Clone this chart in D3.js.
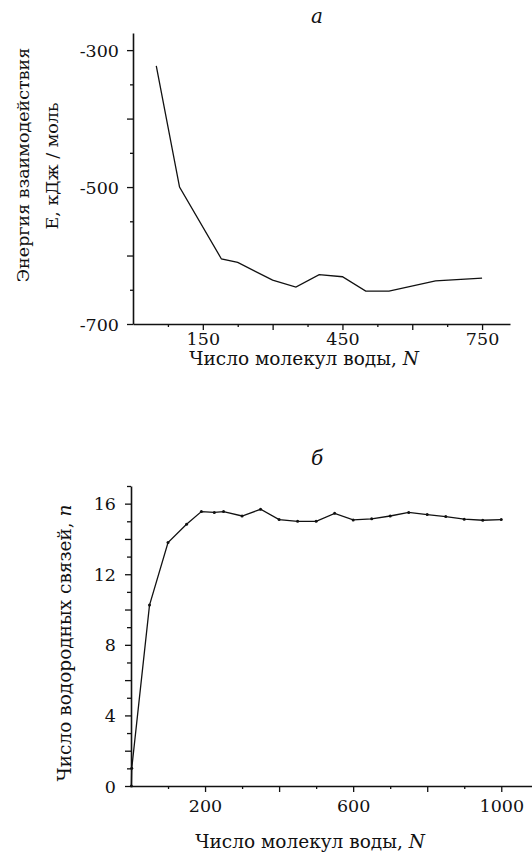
<html>

<head>
    <script src="https://cdn.jsdelivr.net/npm/d3@7/dist/d3.min.js"></script>
    <style>
        body {
            margin: 0;
            background: #fff;
        }

        .domain {
            stroke: #111;
            stroke-width: 1.6;
        }

        .tick line {
            stroke: #111;
            stroke-width: 1.3;
        }
    </style>
</head>

<body>
    <script>
        // panel a: interaction energy vs number of waters
        var sizesA = [50, 100, 190, 225, 300, 350, 400, 450, 500, 550, 650, 750];
        var energyA = [-323, -500, -605, -610, -636, -646, -628, -631, -652, -652, -637, -633];

        // panel b: number of H-bonds vs number of waters
        var sizesB = [1, 2, 50, 100, 150, 190, 225, 250, 300, 350, 400, 450, 500, 550, 600, 650, 700, 750, 800, 850, 900, 950, 1000];
        var bondsB = [0, 1, 10.25, 13.8, 14.83, 15.55, 15.5, 15.55, 15.3, 15.68, 15.1, 15.0, 15.0, 15.45, 15.08, 15.14, 15.3, 15.5, 15.38, 15.27, 15.12, 15.06, 15.1];

        var labelsAx = [150, 450, 750];
        var labelsAy = [-300, -500, -700];
        var labelsBx = [200, 600, 1000];
        var labelsBy = [0, 4, 8, 12, 16];

        var W = 532, H = 852;
        var serif = '"DejaVu Serif", "Noto Serif", serif';

        var svg = d3.select('body')
            .append('svg')
            .attr('width', W)
            .attr('height', H);

        function txt(sel) {
            return sel.style('font-family', serif).style('fill', '#111');
        }

        // ---------- panel a ----------
        var xA = d3.scaleLinear().domain([0, 810]).range([133, 510]);
        var yA = d3.scaleLinear().domain([-700, -275]).range([324, 33]);

        var axAx = svg.append('g')
            .attr('transform', 'translate(0,' + yA(-700) + ')')
            .call(d3.axisBottom(xA)
                .tickValues(d3.range(75, 751, 75))
                .tickSize(3)
                .tickSizeOuter(0)
                .tickFormat((d) => labelsAx.indexOf(d) >= 0 ? d : ''));
        axAx.selectAll('.tick line').attr('y2', (d) => d % 150 == 0 ? 6 : 3);
        txt(axAx.selectAll('.tick text')).attr('dy', 0).attr('y', 21).style('font-size', '17.5px');

        var axAy = svg.append('g')
            .attr('transform', 'translate(' + xA(0) + ',0)')
            .call(d3.axisLeft(yA)
                .tickValues(d3.range(-700, -299, 50))
                .tickSize(3)
                .tickSizeOuter(0)
                .tickFormat((d) => labelsAy.indexOf(d) >= 0 ? d : ''));
        axAy.selectAll('.tick line').attr('x2', (d) => d % 100 == 0 ? -6 : -3);
        txt(axAy.selectAll('.tick text')).attr('x', -14).attr('dy', '0.35em').style('font-size', '17.5px');

        var lineA = d3.line()
            .x((d, i) => xA(sizesA[i]))
            .y((d, i) => yA(energyA[i]));

        svg.append('path')
            .datum(energyA)
            .attr('d', lineA)
            .attr('fill', 'none')
            .attr('stroke', '#111')
            .attr('stroke-width', 1.3);

        txt(svg.append('text'))
            .attr('x', 317).attr('y', 23)
            .attr('text-anchor', 'middle')
            .style('font-size', '20px')
            .style('font-style', 'italic')
            .text('а');

        txt(svg.append('text'))
            .attr('x', 304).attr('y', 365)
            .attr('text-anchor', 'middle')
            .style('font-size', '18.5px')
            .html('Число молекул воды, <tspan font-style="italic">N</tspan>');

        txt(svg.append('text'))
            .attr('transform', 'translate(29,165) rotate(-90)')
            .attr('text-anchor', 'middle')
            .style('font-size', '17.5px')
            .text('Энергия взаимодействия');

        txt(svg.append('text'))
            .attr('transform', 'translate(58,166) rotate(-90)')
            .attr('text-anchor', 'middle')
            .style('font-size', '17.5px')
            .text('Е, кДж / моль');

        // ---------- panel b ----------
        var xB = d3.scaleLinear().domain([0, 1083]).range([131, 532]);
        var yB = d3.scaleLinear().domain([0, 17]).range([786, 486]);

        var axBx = svg.append('g')
            .attr('transform', 'translate(0,' + yB(0) + ')')
            .call(d3.axisBottom(xB)
                .tickValues(d3.range(100, 1001, 100))
                .tickSize(3)
                .tickSizeOuter(0)
                .tickFormat((d) => labelsBx.indexOf(d) >= 0 ? d : ''));
        axBx.selectAll('.tick line').attr('y2', (d) => d % 200 == 0 ? 6 : 3);
        txt(axBx.selectAll('.tick text')).attr('dy', 0).attr('y', 26).style('font-size', '17.5px');

        var axBy = svg.append('g')
            .attr('transform', 'translate(' + xB(0) + ',0)')
            .call(d3.axisLeft(yB)
                .tickValues(d3.range(0, 18, 1))
                .tickSize(4)
                .tickSizeOuter(0)
                .tickFormat((d) => labelsBy.indexOf(d) >= 0 ? d : ''));
        axBy.selectAll('.tick line').attr('x2', (d) => d % 2 == 0 ? -6 : -4);
        txt(axBy.selectAll('.tick text')).attr('x', -15).attr('dy', '0.35em').style('font-size', '17.5px');

        var lineB = d3.line()
            .x((d, i) => xB(sizesB[i]))
            .y((d, i) => yB(bondsB[i]));

        svg.append('path')
            .datum(bondsB)
            .attr('d', lineB)
            .attr('fill', 'none')
            .attr('stroke', '#111')
            .attr('stroke-width', 1.3);

        svg.selectAll('.dotB')
            .data(bondsB)
            .enter()
            .append('circle')
            .attr('class', 'dotB')
            .attr('cx', (d, i) => xB(sizesB[i]))
            .attr('cy', (d) => yB(d))
            .attr('r', 1.5)
            .attr('fill', '#111');

        txt(svg.append('text'))
            .attr('x', 317).attr('y', 465)
            .attr('text-anchor', 'middle')
            .style('font-size', '20px')
            .style('font-style', 'italic')
            .text('б');

        txt(svg.append('text'))
            .attr('x', 310).attr('y', 848)
            .attr('text-anchor', 'middle')
            .style('font-size', '18.5px')
            .html('Число молекул воды, <tspan font-style="italic">N</tspan>');

        txt(svg.append('text'))
            .attr('transform', 'translate(71,643) rotate(-90)')
            .attr('text-anchor', 'middle')
            .style('font-size', '18.5px')
            .html('Число водородных связей, <tspan font-style="italic">n</tspan>');
    </script>
</body>

</html>
